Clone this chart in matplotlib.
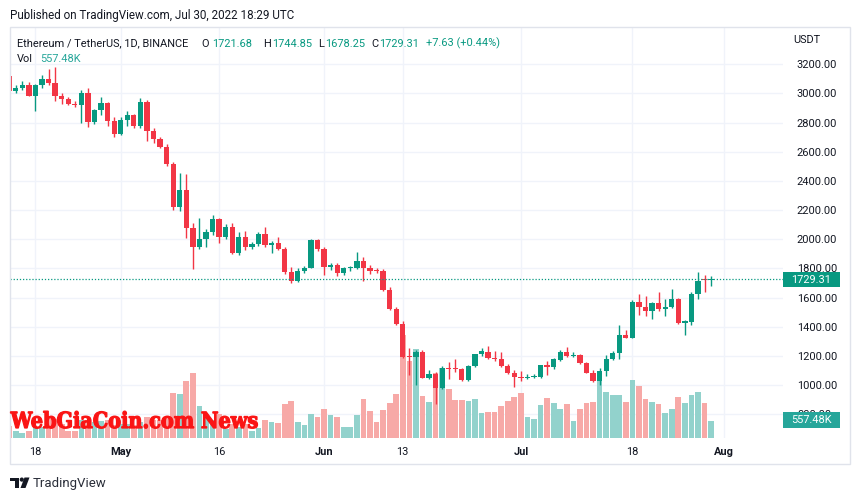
import numpy as np
import pandas as pd
import matplotlib
matplotlib.use('Agg')
import matplotlib.pyplot as plt
import matplotlib.dates as mdates
from matplotlib.patches import Rectangle, PathPatch, Circle, Polygon
from matplotlib.textpath import TextPath
from matplotlib.font_manager import FontProperties
from matplotlib.transforms import Affine2D

# ETH/USDT daily candles, 2022-04-14 .. 2022-07-30
dates = pd.date_range('2022-04-14', '2022-07-30', freq='D')

opens = [3120, 3019, 3040, 3058, 2985, 3056, 3101, 3075, 2980, 2962, 2926, 2918, 3001, 2805, 2887, 2932, 2808,
         2722, 2818, 2852, 2777, 2939, 2740, 2688, 2631, 2514, 2219, 2338, 2075, 1949, 2002, 2052, 2137, 2015,
         2086, 1903, 2013, 1949, 1965, 2036, 1961, 1972, 1931, 1778, 1716, 1782, 1805, 1995,
         1936, 1808, 1824, 1766, 1801, 1804, 1851, 1801, 1785, 1782, 1652, 1519, 1422, 1198, 1195, 1229, 1046,
         1078, 978, 1116, 1119, 1110, 1035, 1133, 1211, 1228, 1188, 1179, 1131, 1085,
         1057, 1046, 1053, 1053, 1138, 1122, 1172, 1229, 1201, 1206, 1154, 1085, 1028, 1099, 1181, 1218, 1343,
         1325, 1572, 1533, 1508, 1565, 1519, 1538, 1588, 1423, 1432, 1625, 1729, 1721.68]
highs = [3135, 3060, 3085, 3080, 3062, 3127, 3170, 3180, 3000, 2975, 2945, 3024, 3035, 2890, 2973, 2939, 2841,
         2840, 2880, 2860, 2967, 2955, 2760, 2700, 2650, 2530, 2452, 2445, 2110, 2144, 2070, 2166, 2145, 2108,
         2110, 2052, 2057, 1980, 2050, 2082, 1990, 2013, 1948, 1812, 1800, 1815, 2000, 2005,
         1950, 1840, 1835, 1810, 1815, 1915, 1875, 1825, 1805, 1795, 1675, 1535, 1439, 1252, 1240, 1240, 1100,
         1090, 1130, 1160, 1179, 1118, 1140, 1215, 1252, 1270, 1235, 1230, 1145, 1105,
         1095, 1075, 1075, 1140, 1165, 1185, 1240, 1263, 1225, 1215, 1160, 1100, 1115, 1206, 1235, 1412, 1378,
         1580, 1625, 1611, 1568, 1640, 1588, 1656, 1600, 1445, 1640, 1775, 1755, 1744.85]
lows = [3005, 3005, 3025, 2980, 2882, 3035, 3060, 2945, 2930, 2920, 2905, 2800, 2768, 2790, 2852, 2777, 2704,
        2712, 2777, 2765, 2760, 2676, 2660, 2625, 2500, 2200, 2196, 2006, 1798, 1933, 1950, 2030, 1972, 2005,
        1900, 1892, 1925, 1935, 1955, 1950, 1908, 1925, 1760, 1698, 1705, 1768, 1800, 1920,
        1755, 1790, 1745, 1755, 1780, 1795, 1716, 1765, 1770, 1645, 1515, 1415, 1183, 1067, 1000, 1045, 1040,
        870, 975, 1041, 1092, 1030, 1030, 1125, 1200, 1180, 1165, 1125, 1075, 989,
        1030, 1040, 1045, 1050, 1069, 1110, 1165, 1195, 1190, 1145, 1080, 1023, 1000, 1062, 1170, 1176, 1320,
        1320, 1480, 1474, 1455, 1510, 1476, 1530, 1420, 1343, 1410, 1588, 1640, 1678.25]
closes = [3018, 3036, 3058, 2985, 3056, 3101, 3075, 2980, 2962, 2925, 2918, 3001, 2805, 2887, 2932, 2808, 2722,
          2818, 2852, 2777, 2939, 2740, 2688, 2631, 2514, 2219, 2338, 2075, 1949, 2002, 2052, 2137, 2015, 2086,
          1903, 2013, 1949, 1965, 2036, 1961, 1972, 1931, 1778, 1716, 1782, 1805, 1995, 1931,
          1808, 1824, 1766, 1801, 1804, 1851, 1801, 1785, 1782, 1652, 1519, 1422, 1195, 1195, 1229, 1046, 1074,
          978, 1115, 1113, 1108, 1035, 1133, 1211, 1234, 1188, 1176, 1131, 1080, 1053,
          1046, 1057, 1062, 1138, 1122, 1179, 1229, 1199, 1206, 1149, 1085, 1028, 1099, 1181, 1218, 1343, 1325,
          1572, 1533, 1508, 1565, 1519, 1538, 1588, 1423, 1439, 1625, 1716, 1721.68, 1729.31]
volumes_k = [392, 235, 168, 235, 370, 370, 650, 650, 480, 224, 235, 615, 595, 540, 570, 595, 425,
             480, 480, 425, 540, 705, 615, 595, 705, 1523, 1490, 1916, 2185, 1075, 700, 600, 796, 313,
             480, 370, 480, 235, 347, 615, 538, 504, 1132, 1232, 538, 426, 796, 706,
             986, 762, 706, 370, 370, 762, 1322, 896, 538, 930, 1176, 1490, 3466, 2600, 2990, 1400, 1199,
             2195, 2352, 1658, 1280, 1280, 1245, 1310, 840, 862, 862, 1070, 1250, 1385,
             1512, 715, 649, 1120, 1350, 1176, 990, 1150, 582, 990, 1176, 1225, 1961, 1560, 1430, 1456, 1221,
             1950, 1759, 1300, 1221, 1143, 840, 986, 1378, 1176, 1456, 1546, 1176, 557.48]

price_ticks = [800, 1000, 1200, 1400, 1600, 1800, 2000, 2200, 2400, 2600, 2800, 3000, 3200]
date_ticks = ['2022-04-18', '2022-05-01', '2022-05-16', '2022-06-01', '2022-06-13',
              '2022-07-01', '2022-07-18', '2022-08-01']
date_labels = ['18', 'May', '16', 'Jun', '13', 'Jul', '18', 'Aug']
last_price = 1729.31
last_vol = '557.48K'

UP = '#089981'
DOWN = '#f23645'
VOL_UP = '#92d2cc'
VOL_DOWN = '#f7a9a7'
GRID = '#f0f3fa'
TXT = '#131722'
FONT = 'Roboto'

W, H = 860, 499
fig = plt.figure(figsize=(W / 100, H / 100), dpi=100)
fig.patch.set_facecolor('white')


def box(x0, y0, x1, y1):
    # pixel box (top-left origin) -> figure fraction
    return [x0 / W, 1 - y1 / H, (x1 - x0) / W, (y1 - y0) / H]


pane = box(10, 27, 783, 438)
ax = fig.add_axes(pane, zorder=0)          # grid + scales
axv = fig.add_axes(pane, zorder=1, sharex=ax)   # volume
axc = fig.add_axes(pane, zorder=2, sharex=ax, sharey=ax)  # candles

x = mdates.date2num(dates)
o = np.array(opens, dtype=float)
c = np.array(closes, dtype=float)
up = c >= o

x0 = mdates.date2num(dates[0])
ax.set_xlim(x0 + (10 - 9.2) / 6.56, x0 + (783 - 9.2) / 6.56)
ax.set_ylim(636.8, 3455.8)

ax.set_facecolor('white')
for s in ax.spines.values():
    s.set_visible(False)
ax.yaxis.tick_right()
ax.set_yticks(price_ticks)
ax.set_yticklabels([f'{v:.2f}' for v in price_ticks], fontfamily=FONT)
ax.tick_params(axis='y', length=0, pad=10, labelsize=7.9, labelcolor=TXT)
ax.set_xticks(mdates.date2num(pd.to_datetime(date_ticks)))
ax.set_xticklabels(date_labels, fontfamily=FONT)
for t, lab in zip(ax.get_xticklabels(), date_labels):
    if not lab.isdigit():
        t.set_fontweight('bold')
ax.tick_params(axis='x', length=0, pad=6.5, labelsize=7.9, labelcolor=TXT)
ax.grid(True, color=GRID, linewidth=1)

# volume
axv.bar(x, volumes_k, width=0.86, color=np.where(up, VOL_UP, VOL_DOWN), linewidth=0)
axv.set_ylim(0, 557.48 * 411 / 16.6)
axv.axis('off')
axv.patch.set_visible(False)

# candles
col = np.where(up, UP, DOWN)
axc.vlines(x, lows, highs, colors=col, linewidth=1)
body = np.maximum(np.abs(c - o), 6)
axc.bar(x, body, bottom=np.minimum(o, c), width=0.8, color=col, linewidth=0)
axc.axhline(last_price, color=UP, linewidth=0.9, linestyle=(0, (1, 1.5)))
axc.axis('off')
axc.patch.set_visible(False)

# overlay in pixel coordinates for the TradingView chrome
ov = fig.add_axes([0, 0, 1, 1], zorder=5)
ov.set_xlim(0, W)
ov.set_ylim(H, 0)
ov.axis('off')
ov.patch.set_visible(False)

ov.add_patch(Rectangle((10, 27), 840, 437, fill=False, edgecolor='#e0e3eb', linewidth=1))

ov.text(10, 19, 'Published on TradingView.com, Jul 30, 2022 18:29 UTC', fontsize=8.4,
        color=TXT, fontfamily=FONT, va='baseline')

hdr = [(17, 'Ethereum / TetherUS, 1D, BINANCE', TXT),
       (201, 'O', TXT), (212, '1721.68', UP),
       (263, 'H', TXT), (272, '1744.85', UP),
       (318, 'L', TXT), (325, '1678.25', UP),
       (371, 'C', TXT), (379, '1729.31', UP),
       (426, '+7.63 (+0.44%)', UP)]
for hx, s, cl in hdr:
    ov.text(hx, 46.5, s, fontsize=7.95, color=cl, fontfamily=FONT, va='baseline')
ov.text(17, 61.5, 'Vol', fontsize=7.95, color=TXT, fontfamily=FONT, va='baseline')
ov.text(40, 61.5, last_vol, fontsize=7.95, color='#26a69a', fontfamily=FONT, va='baseline')

ov.text(793, 40, 'USDT', fontsize=7.9, color=TXT, fontfamily=FONT, va='center')

# last price / last volume labels on the price scale
ov.add_patch(Rectangle((783, 272), 57, 15, color=UP, linewidth=0))
ov.text(811.5, 279.8, f'{last_price:.2f}', fontsize=7.9, color='white', fontfamily=FONT,
        ha='center', va='center')
ov.add_patch(Rectangle((783, 412), 57, 16, color='#26a69a', linewidth=0))
ov.text(811.5, 420.3, last_vol, fontsize=7.9, color='white', fontfamily=FONT,
        ha='center', va='center')

# watermark
wm = 'WebGiaCoin.com News'
fp = FontProperties(family='DejaVu Serif', weight='bold')
tp = TextPath((0, 0), wm, size=20, prop=fp)
ext = tp.get_extents()
cap = TextPath((0, 0), 'W', size=20, prop=fp).get_extents().height
sx = 247 / ext.width
sy = 16.2 / cap
tr = Affine2D().translate(-ext.x0, 0).scale(sx, -sy).translate(10.5, 428) + ov.transData
ov.add_patch(PathPatch(tp, transform=tr, facecolor='#fa1414', edgecolor='#fa1414',
                       linewidth=0.9, joinstyle='miter'))

# TradingView footer logo
ov.add_patch(Rectangle((10, 477.5), 9, 3.6, color='#131722', linewidth=0))
ov.add_patch(Rectangle((14.5, 477.5), 4.5, 10.5, color='#131722', linewidth=0))
ov.add_patch(Circle((21.8, 479.6), 2.1, color='#131722', linewidth=0))
ov.add_patch(Polygon([(24.5, 477.5), (29.5, 477.5), (25.5, 488), (20.5, 488)], closed=True,
                     color='#131722', linewidth=0))
ov.text(33, 483, 'TradingView', fontsize=9.5, color='#2a2e39', fontfamily=FONT, va='center')

fig.savefig('out.png', dpi=100, facecolor='white')
